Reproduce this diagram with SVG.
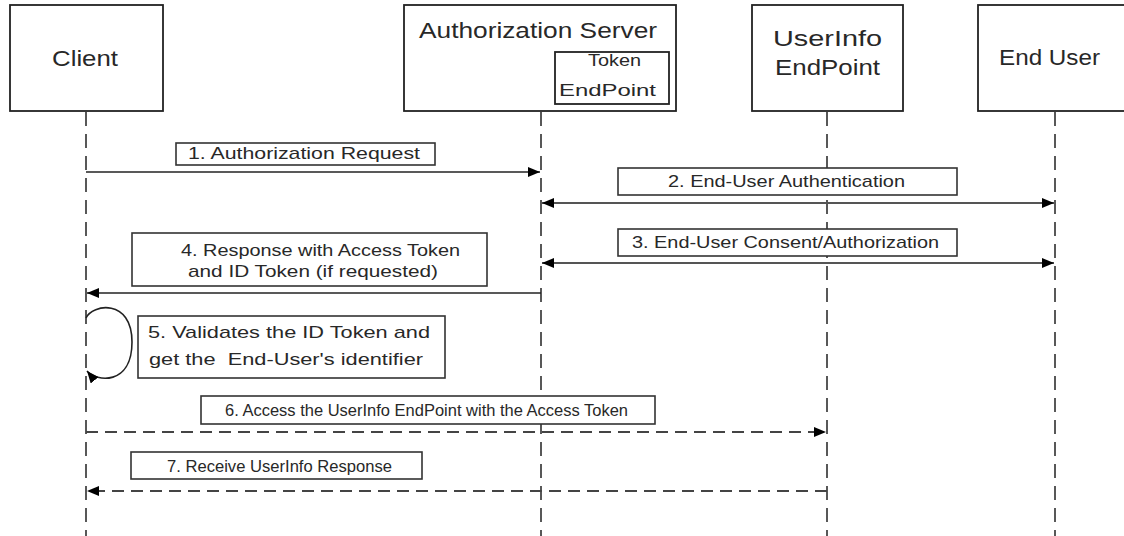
<svg xmlns="http://www.w3.org/2000/svg" width="1124" height="536" viewBox="0 0 1124 536">
<defs>
<marker id="ah" viewBox="0 0 12 10" refX="12" refY="5" markerWidth="12" markerHeight="10" markerUnits="userSpaceOnUse" orient="auto-start-reverse">
<path d="M0,0 L12,5 L0,10 z" fill="#000"/>
</marker>
<style>
.box{fill:#fff;stroke:#222;stroke-width:1.8}
.lbl{fill:#fff;stroke:#333;stroke-width:1.6}
.life{stroke:#222;stroke-width:1.5;stroke-dasharray:14 8;fill:none}
.msg{stroke:#222;stroke-width:1.6;fill:none}
.msg2{stroke:#555;stroke-width:2;fill:none}
.dash{stroke:#444;stroke-width:2;stroke-dasharray:12 7;fill:none}
text{font-family:"Liberation Sans",Arial,sans-serif;fill:#282828}
.big{font-size:22px}
.sm{font-size:17px}
</style>
</defs>
<rect width="1124" height="536" fill="#fff"/>
<g id="lifelines">
<line class="life" x1="86" y1="112" x2="86" y2="536"/>
<line class="life" x1="541" y1="112" x2="541" y2="536"/>
<line class="life" x1="827" y1="112" x2="827" y2="536"/>
<line class="life" x1="1055" y1="112" x2="1055" y2="536"/>
</g>
<g id="client">
<rect class="box" x="10" y="5" width="153" height="106"/>
<text class="big" x="52" y="66" textLength="66" lengthAdjust="spacingAndGlyphs">Client</text>
</g>
<g id="authserver">
<rect class="box" x="404" y="5" width="272" height="106"/>
<text class="big" x="419" y="38" textLength="238" lengthAdjust="spacingAndGlyphs">Authorization Server</text>
<g id="tokenendpoint">
<rect class="box" x="555" y="52" width="114" height="52"/>
<text class="sm" x="588" y="66" textLength="53" lengthAdjust="spacingAndGlyphs">Token</text>
<text class="sm" x="559" y="96" textLength="97" lengthAdjust="spacingAndGlyphs">EndPoint</text>
</g>
</g>
<g id="userinfo">
<rect class="box" x="752" y="5" width="151" height="106"/>
<text class="big" x="773" y="46" textLength="109" lengthAdjust="spacingAndGlyphs">UserInfo</text>
<text class="big" x="775" y="75" textLength="105" lengthAdjust="spacingAndGlyphs">EndPoint</text>
</g>
<g id="enduser">
<rect class="box" x="978" y="5" width="160" height="106"/>
<text class="big" x="999" y="65" textLength="101" lengthAdjust="spacingAndGlyphs">End User</text>
</g>
<g id="connectors">
<line class="msg" x1="86" y1="172" x2="540" y2="172" marker-end="url(#ah)"/>
<line class="msg2" x1="542" y1="203" x2="1054" y2="203" marker-start="url(#ah)" marker-end="url(#ah)"/>
<line class="msg2" x1="542" y1="263" x2="1054" y2="263" marker-start="url(#ah)" marker-end="url(#ah)"/>
<line class="msg" x1="541" y1="293" x2="87" y2="293" marker-end="url(#ah)"/>
<path class="msg" d="M86,318 C92,304 132,298 132,342 C132,386 96,382 87,371" marker-end="url(#ah)"/>
<line class="dash" x1="86" y1="432" x2="826" y2="432" marker-end="url(#ah)"/>
<line class="dash" x1="827" y1="491" x2="87" y2="491" marker-end="url(#ah)"/>
</g>
<g id="labels">
<rect class="lbl" x="176" y="143" width="259" height="22"/>
<text class="sm" x="188" y="159" textLength="232" lengthAdjust="spacingAndGlyphs">1. Authorization Request</text>
<rect class="lbl" x="618" y="168" width="339" height="27"/>
<text class="sm" x="668" y="187" textLength="237" lengthAdjust="spacingAndGlyphs">2. End-User Authentication</text>
<rect class="lbl" x="618" y="229" width="339" height="27"/>
<text class="sm" x="632" y="248" textLength="307" lengthAdjust="spacingAndGlyphs">3. End-User Consent/Authorization</text>
<rect class="lbl" x="132" y="233" width="355" height="53"/>
<text class="sm" x="181" y="256" textLength="279" lengthAdjust="spacingAndGlyphs">4. Response with Access Token</text>
<text class="sm" x="188" y="277" textLength="250" lengthAdjust="spacingAndGlyphs">and ID Token (if requested)</text>
<rect class="lbl" x="138" y="316" width="307" height="62"/>
<text class="sm" x="148" y="338" textLength="282" lengthAdjust="spacingAndGlyphs">5. Validates the ID Token and</text>
<text class="sm" x="149" y="365" textLength="274" lengthAdjust="spacingAndGlyphs" xml:space="preserve">get the  End-User's identifier</text>
<rect class="lbl" x="201" y="396" width="454" height="28"/>
<text class="sm" x="225" y="416" textLength="403" lengthAdjust="spacingAndGlyphs">6. Access the UserInfo EndPoint with the Access Token</text>
<rect class="lbl" x="131" y="452" width="291" height="27"/>
<text class="sm" x="167" y="472" textLength="225" lengthAdjust="spacingAndGlyphs">7. Receive UserInfo Response</text>
</g>
</svg>
